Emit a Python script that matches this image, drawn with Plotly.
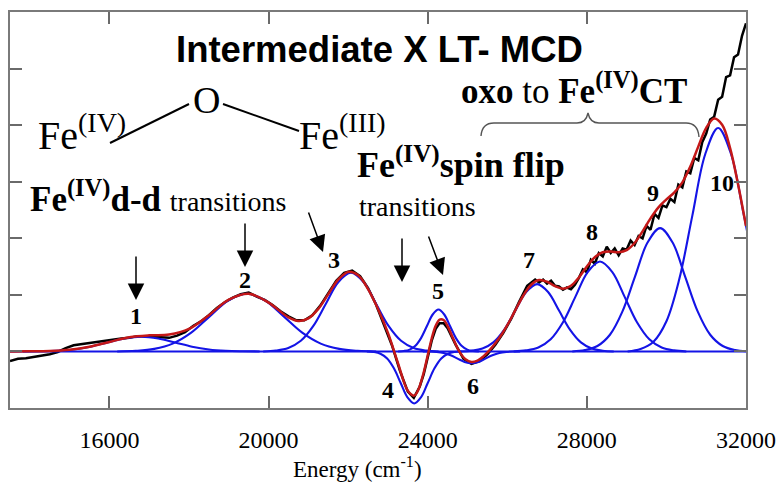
import plotly.graph_objects as go

# ---------------- data ----------------
# experimental LT-MCD trace (black)
EXP_E = [13500, 13700, 13900, 14100, 14300, 14500, 14700, 14900, 15100, 15300, 15500, 15700, 15900,
         16100, 16300, 16500, 16700, 16900, 17100, 17300, 17500, 17700, 17900, 18100, 18300, 18500,
         18700, 18900, 19100, 19300, 19500, 19700, 19900, 20100, 20300, 20500, 20700, 20900, 21100,
         21300, 21500, 21700, 21900, 22100, 22300, 22500, 22700, 22900, 23100, 23300, 23500, 23650,
         23800, 23900, 24000, 24100, 24200, 24300, 24400, 24500, 24700, 24900, 25100, 25300, 25500,
         25700, 25900, 26100, 26300, 26500, 26700, 26800, 26900, 27000, 27100, 27200, 27300, 27400,
         27500, 27600, 27700, 27800, 27900, 28000, 28100, 28200, 28300, 28400, 28500, 28600, 28700,
         28800, 28900, 29000, 29100, 29200, 29300, 29400, 29500, 29600, 29700, 29800, 29900, 30000,
         30100, 30200, 30300, 30400, 30500, 30600, 30700, 30800, 30900, 31000, 31100, 31200, 31300,
         31400, 31500, 31600, 31700, 31800, 31900, 32000]
EXP_Y = [-0.17, -0.13, -0.12, -0.10, -0.07, -0.05, -0.01, 0.06, 0.11, 0.13, 0.16, 0.17, 0.20,
         0.21, 0.23, 0.24, 0.27, 0.27, 0.26, 0.26, 0.24, 0.28, 0.34, 0.45, 0.53, 0.64,
         0.77, 0.87, 0.95, 1.01, 1.04, 0.97, 0.91, 0.82, 0.71, 0.62, 0.55, 0.55, 0.64,
         0.81, 1.03, 1.25, 1.39, 1.43, 1.33, 1.12, 0.83, 0.48, 0.11, -0.34, -0.71, -0.82,
         -0.62, -0.40, -0.10, 0.19, 0.40, 0.50, 0.50, 0.41, 0.12, -0.13, -0.22, -0.17, -0.05,
         0.12, 0.33, 0.58, 0.88, 1.16, 1.27, 1.22, 1.27, 1.20, 1.25, 1.16, 1.15, 1.09,
         1.13, 1.10, 1.18, 1.30, 1.45, 1.40, 1.62, 1.55, 1.74, 1.68, 1.85, 1.74, 1.82,
         1.70, 1.82, 1.80, 1.96, 1.88, 2.04, 2.00, 2.22, 2.15, 2.43, 2.36, 2.58, 2.55,
         2.70, 2.64, 2.95, 2.90, 3.18, 3.15, 3.42, 3.38, 3.70, 3.85, 4.10, 4.15, 4.45,
         4.50, 4.85, 4.88, 5.20, 5.25, 5.58, 5.80]

# total fit (red)
FIT_E = [13500, 14000, 14500, 15000, 15500, 16000, 16500, 17000, 17500, 18000, 18500, 19000, 19500,
         20000, 20500, 20750, 21000, 21250, 21500, 21750, 22000, 22250, 22500, 22750, 23000, 23250,
         23500, 23660, 23750, 23900, 24000, 24100, 24200, 24300, 24400, 24500, 24650, 24800, 24950,
         25100, 25250, 25400, 25550, 25700, 25850, 26000, 26200, 26400, 26600, 26800, 27000, 27200,
         27400, 27600, 27800, 28000, 28200, 28400, 28600, 28800, 29000, 29200, 29400, 29600, 29800,
         30000, 30200, 30400, 30600, 30800, 31000, 31200, 31400, 31600, 31800, 32000]
FIT_Y = [0.0, 0.001, 0.007, 0.028, 0.081, 0.168, 0.251, 0.285, 0.298, 0.398, 0.641, 0.916, 1.020,
         0.863, 0.602, 0.539, 0.583, 0.753, 1.013, 1.270, 1.405, 1.345, 1.103, 0.751, 0.328, -0.203,
         -0.696, -0.781, -0.700, -0.368, -0.067, 0.229, 0.454, 0.564, 0.555, 0.449, 0.210, -0.008, -0.139,
         -0.185, -0.161, -0.087, 0.018, 0.144, 0.291, 0.463, 0.725, 0.985, 1.178, 1.261, 1.232, 1.153,
         1.109, 1.160, 1.308, 1.500, 1.666, 1.753, 1.766, 1.753, 1.790, 1.916, 2.123, 2.351, 2.547,
         2.687, 2.813, 2.989, 3.267, 3.620, 3.951, 4.116, 4.006, 3.595, 2.955, 2.217]

# Gaussian components (blue), bands 1-10
BAND1_E = [13825, 14250, 14675, 15100, 15525, 15950, 16375, 16800, 17225, 17650, 18075, 18500, 18925, 19350, 19775]
BAND1_Y = [0, 0.003, 0.011, 0.035, 0.084, 0.158, 0.229, 0.26, 0.229, 0.158, 0.084, 0.035, 0.011, 0.003, 0]
BAND2_E = [16195, 16660, 17125, 17590, 18055, 18520, 18985, 19450, 19915, 20380, 20845, 21310, 21775, 22240, 22705]
BAND2_Y = [0, 0.011, 0.045, 0.138, 0.331, 0.619, 0.900, 1.02, 0.900, 0.619, 0.331, 0.138, 0.045, 0.011, 0]
BAND3_E = [19865, 20180, 20495, 20810, 21125, 21440, 21755, 22070, 22385, 22700, 23015, 23330, 23645, 23960, 24275]
BAND3_Y = [0, 0.015, 0.061, 0.188, 0.451, 0.843, 1.227, 1.39, 1.227, 0.843, 0.451, 0.188, 0.061, 0.015, 0]
BAND4_E = [22470, 22640, 22810, 22980, 23150, 23320, 23490, 23660, 23830, 24000, 24170, 24340, 24510, 24680, 24850]
BAND4_Y = [0, -0.010, -0.040, -0.124, -0.299, -0.558, -0.812, -0.92, -0.812, -0.558, -0.299, -0.124, -0.040, -0.010, 0]
BAND5_E = [23255, 23400, 23545, 23690, 23835, 23980, 24125, 24270, 24415, 24560, 24705, 24850, 24995, 25140, 25285]
BAND5_Y = [0, 0.008, 0.032, 0.100, 0.240, 0.449, 0.653, 0.74, 0.653, 0.449, 0.240, 0.100, 0.032, 0.008, 0]
BAND6_E = [23875, 24050, 24225, 24400, 24575, 24750, 24925, 25100, 25275, 25450, 25625, 25800, 25975, 26150, 26325]
BAND6_Y = [0, -0.002, -0.009, -0.028, -0.068, -0.127, -0.185, -0.21, -0.185, -0.127, -0.068, -0.028, -0.009, -0.002, 0]
BAND7_E = [24825, 25100, 25375, 25650, 25925, 26200, 26475, 26750, 27025, 27300, 27575, 27850, 28125, 28400, 28675]
BAND7_Y = [0, 0.013, 0.052, 0.161, 0.386, 0.722, 1.050, 1.19, 1.050, 0.722, 0.386, 0.161, 0.052, 0.013, 0]
BAND8_E = [26160, 26470, 26780, 27090, 27400, 27710, 28020, 28330, 28640, 28950, 29260, 29570, 29880, 30190, 30500]
BAND8_Y = [0, 0.018, 0.070, 0.215, 0.516, 0.964, 1.403, 1.59, 1.403, 0.964, 0.516, 0.215, 0.070, 0.018, 0]
BAND9_E = [27635, 27950, 28265, 28580, 28895, 29210, 29525, 29840, 30155, 30470, 30785, 31100, 31415, 31730, 32045]
BAND9_Y = [0, 0.024, 0.096, 0.295, 0.708, 1.322, 1.924, 2.18, 1.924, 1.322, 0.708, 0.295, 0.096, 0.024, 0]
BAND10_E = [29025, 29350, 29675, 30000, 30325, 30650, 30975, 31300, 31625, 31950, 32275, 32600, 32925, 33250, 33575]
BAND10_Y = [0, 0.044, 0.173, 0.534, 1.283, 2.396, 3.486, 3.95, 3.486, 2.396, 1.283, 0.534, 0.173, 0.044, 0]

BASE_E = [13500, 32000]
BASE_Y = [0, 0]

BANDS = [(BAND1_E, BAND1_Y), (BAND2_E, BAND2_Y), (BAND3_E, BAND3_Y), (BAND4_E, BAND4_Y),
         (BAND5_E, BAND5_Y), (BAND6_E, BAND6_Y), (BAND7_E, BAND7_Y), (BAND8_E, BAND8_Y),
         (BAND9_E, BAND9_Y), (BAND10_E, BAND10_Y)]

X_TICKS = [16000, 20000, 24000, 28000, 32000]
X_TICK_TEXT = ["16000", "20000", "24000", "28000", "32000"]

# ---------------- figure ----------------
W, H = 778, 482
L, R, T, B = 10, 32, 12, 74
PW, PH = W - L - R, H - T - B

def P(x, y):
    """pixel position -> paper coordinates"""
    return (x - L) / PW, (H - B - y) / PH

BLUE = "#1414e6"
RED = "#c41818"
SERIF = "Liberation Serif"
SANS = "Liberation Sans"

fig = go.Figure()
fig.add_trace(go.Scatter(x=EXP_E, y=EXP_Y, mode="lines",
                         line=dict(color="black", width=2.5), showlegend=False))
fig.add_trace(go.Scatter(x=BASE_E, y=BASE_Y, mode="lines",
                         line=dict(color=BLUE, width=2), showlegend=False))
for be, by in BANDS:
    fig.add_trace(go.Scatter(x=be, y=by, mode="lines",
                             line=dict(color=BLUE, width=2.1, shape="spline", smoothing=1),
                             showlegend=False))
fig.add_trace(go.Scatter(x=FIT_E, y=FIT_Y, mode="lines",
                         line=dict(color=RED, width=2.5, shape="spline", smoothing=1),
                         showlegend=False))

annotations = []

def text(t, x, y, size, family=SERIF, xanchor="center", yanchor="middle"):
    px, py = P(x, y)
    annotations.append(dict(text=t, x=px, y=py, xref="paper", yref="paper",
                            showarrow=False, xanchor=xanchor, yanchor=yanchor,
                            font=dict(family=family, size=size, color="black")))

def arrow(x0, y0, x1, y1):
    px, py = P(x1, y1)
    annotations.append(dict(text="", x=px, y=py, xref="paper", yref="paper",
                            ax=x0 - x1, ay=y0 - y1, showarrow=True,
                            arrowhead=2, arrowsize=2.2, arrowwidth=1.5,
                            arrowcolor="black", standoff=0))

text("<b>Intermediate X LT- MCD</b>", 379, 49, 36.5, family=SANS)
text("Fe<sup>(IV)</sup>", 36, 132, 40, xanchor="left")
text("O", 206, 100, 38)
text("Fe<sup>(III)</sup>", 297, 132, 40, xanchor="left")
text("<b>oxo</b> to <b>Fe<sup>(IV)</sup>CT</b>", 459, 89, 35, xanchor="left")
text("<b>Fe<sup>(IV)</sup>d-d</b> <span style='font-size:28px'>transitions</span>", 28, 197, 35, xanchor="left")
text("<b>Fe<sup>(IV)</sup>spin flip</b>", 355, 163, 36, xanchor="left")
text("transitions", 357, 206, 28, xanchor="left")

# band numbers
for lab, x, y in [("1", 136, 316), ("2", 245, 280), ("3", 334, 260), ("4", 388, 390),
                  ("5", 438, 291), ("6", 473, 386), ("7", 529, 260), ("8", 592, 232),
                  ("9", 653, 193), ("10", 722, 183)]:
    text("<b>" + lab + "</b>", x, y, 24)

arrow(136, 255, 136, 300)
arrow(245, 222, 245, 267)
arrow(308, 211, 323, 252)
arrow(402, 237, 402, 282)
arrow(428, 235, 443, 275)

# x-axis title
text("Energy (cm<sup>-1</sup>)", 357, 467, 23)

shapes = []
def seg(x0, y0, x1, y1, color="black", width=2):
    a, b = P(x0, y0)
    c, d = P(x1, y1)
    shapes.append(dict(type="line", xref="paper", yref="paper", x0=a, y0=b, x1=c, y1=d,
                       line=dict(color=color, width=width)))

seg(110, 143, 189, 104)
seg(223, 104, 299, 131)

# curly brace under "oxo to Fe(IV)CT"
pts = [(481, 136), (482, 123), (494, 123), (577, 123), (586, 123), (588, 113), (590, 123),
       (599, 123), (686, 123), (698, 123), (699, 137)]
pp = [P(x, y) for x, y in pts]
path = (f"M {pp[0][0]},{pp[0][1]} Q {pp[1][0]},{pp[1][1]} {pp[2][0]},{pp[2][1]} "
        f"L {pp[3][0]},{pp[3][1]} Q {pp[4][0]},{pp[4][1]} {pp[5][0]},{pp[5][1]} "
        f"Q {pp[6][0]},{pp[6][1]} {pp[7][0]},{pp[7][1]} L {pp[8][0]},{pp[8][1]} "
        f"Q {pp[9][0]},{pp[9][1]} {pp[10][0]},{pp[10][1]}")
shapes.append(dict(type="path", xref="paper", yref="paper", path=path,
                   line=dict(color="#555555", width=1.4)))

axis_common = dict(showgrid=False, zeroline=False, showline=True, linecolor="#7a7a7a",
                   linewidth=2, mirror="ticks", ticks="inside", ticklen=12,
                   tickcolor="#6a6a6a", tickwidth=1.5, automargin=False)

fig.update_layout(
    width=W, height=H, autosize=False,
    margin=dict(l=L, r=R, t=T, b=B, autoexpand=False),
    paper_bgcolor="white", plot_bgcolor="white",
    xaxis=dict(range=[13500, 32000], tickvals=X_TICKS, ticktext=X_TICK_TEXT,
               tickfont=dict(family=SERIF, size=24, color="black"),
               ticklabelstandoff=9, ticklabeloverflow="allow", **axis_common),
    yaxis=dict(range=[-1, 6], dtick=1, tick0=0, showticklabels=False, **axis_common),
    annotations=annotations,
    shapes=shapes,
    showlegend=False,
)

fig.write_html("out.html",
               config={"responsive": False, "displayModeBar": False},
               post_script="document.body.style.margin='0px';document.body.style.overflow='hidden';")
